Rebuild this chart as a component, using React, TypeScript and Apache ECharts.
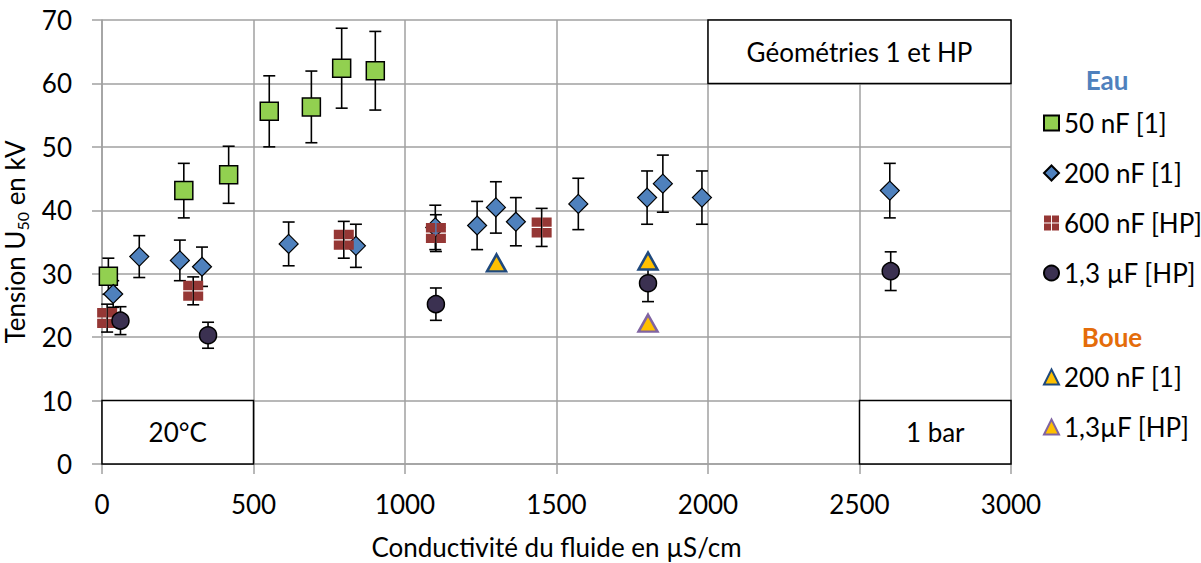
import React, { useEffect, useRef } from "react";
import * as echarts from "echarts";

// ---- Data ----
const eau50X = [21, 270, 418, 552, 691, 791, 902];
const eau50Y = [29.6, 43.1, 45.6, 55.6, 56.3, 62.4, 62.0];
const eau50Err = [2.85, 4.3, 4.5, 5.6, 5.65, 6.3, 6.2];

const eau200X = [37, 123, 257, 330, 616, 838, 1100, 1238, 1300, 1366, 1572, 1799, 1851, 1980, 2600];
const eau200Y = [26.8, 32.7, 32.1, 31.1, 34.7, 34.4, 37.3, 37.6, 40.45, 38.2, 41.0, 42.0, 44.2, 42.0, 43.1];
const eau200Err = [2.1, 3.3, 3.2, 3.1, 3.45, 3.4, 3.5, 3.8, 4.05, 3.8, 4.05, 4.2, 4.5, 4.2, 4.3];

const eau600X = [17, 301, 798, 1102, 1451];
const eau600Y = [23.0, 27.3, 35.35, 36.4, 37.3];
const eau600Err = [2.2, 2.2, 2.9, 2.9, 3.0];

const eau13X = [61, 350, 1102, 1802, 2603];
const eau13Y = [22.6, 20.3, 25.2, 28.5, 30.4];
const eau13Err = [2.2, 2.05, 2.55, 2.9, 3.05];

const boue200X = [1302, 1802];
const boue200Y = [31.7, 32.0];

const boue13X = [1802];
const boue13Y = [22.2];

const seriesNames = ["50 nF [1]", "200 nF [1]", "600 nF [HP]", "1,3 µF [HP]", "Boue 200 nF [1]", "1,3µF [HP]"];
const boxLabels = ["20°C", "1 bar", "Géométries 1 et HP"];

const FONT = "Lato";
const FS = 26;

const pts = (xs: number[], ys: number[]) => xs.map((x, i) => [x, ys[i]]);
const errs = (xs: number[], ys: number[], es: number[]) => xs.map((x, i) => [x, ys[i] - es[i], ys[i] + es[i]]);

const crossSquare =
  "path://M0,0H9.35V9.35H0Z M10.65,0H20V9.35H10.65Z M0,10.65H9.35V20H0Z M10.65,10.65H20V20H10.65Z";

export default function App() {
  const ref = useRef<HTMLDivElement>(null);
  useEffect(() => {
    if (!ref.current) return;
    const chart = echarts.init(ref.current, null, { renderer: "svg" });
    const gridColor = "#a0a0a0";
    const errData = [
      ...errs(eau50X, eau50Y, eau50Err),
      ...errs(eau200X, eau200Y, eau200Err),
      ...errs(eau600X, eau600Y, eau600Err),
      ...errs(eau13X, eau13Y, eau13Err),
    ];
    const boxStyle = { color: "#ffffff", borderColor: "#000000", borderWidth: 1.5, opacity: 1 };
    const boxLabel = { show: true, position: "inside", color: "#000", fontSize: FS, fontFamily: FONT };
    const legendText = { fontSize: FS, fontFamily: FONT, color: "#000", lineHeight: 26 };
    chart.setOption({
      animation: false,
      backgroundColor: "#ffffff",
      grid: { left: 102, top: 20, width: 909, height: 444, outerBoundsMode: "none", containLabel: false },
      xAxis: {
        type: "value",
        min: 0,
        max: 3000,
        interval: 500,
        name: "Conductivité du fluide en µS/cm",
        nameLocation: "middle",
        nameGap: 70,
        nameTextStyle: { fontSize: FS, fontFamily: FONT, color: "#000" },
        axisLine: { show: true, lineStyle: { color: gridColor, width: 1.5 } },
        axisTick: { show: true, length: 10, lineStyle: { color: gridColor, width: 1.5 } },
        axisLabel: {
          fontSize: FS,
          fontFamily: FONT,
          color: "#000",
          margin: 27,
          formatter: (v: number) => String(v),
        },
        splitLine: { show: true, lineStyle: { color: gridColor, width: 1.5 } },
      },
      yAxis: {
        type: "value",
        min: 0,
        max: 70,
        interval: 10,
        name: "{a|Tension U}{s|50}{a| en kV}",
        nameLocation: "middle",
        nameGap: 56,
        nameRotate: 90,
        nameTextStyle: {
          fontSize: FS,
          fontFamily: FONT,
          color: "#000",
          rich: {
            a: { fontSize: FS, fontFamily: FONT, color: "#000", lineHeight: 32, verticalAlign: "middle" },
            s: { fontSize: 16, fontFamily: FONT, color: "#000", lineHeight: 16, verticalAlign: "bottom" },
          },
        },
        axisLine: { show: true, lineStyle: { color: gridColor, width: 1.5 } },
        axisTick: { show: true, length: 10, lineStyle: { color: gridColor, width: 1.5 } },
        axisLabel: { fontSize: FS, fontFamily: FONT, color: "#000", margin: 30 },
        splitLine: { show: true, lineStyle: { color: gridColor, width: 1.5 } },
      },
      legend: [
        {
          data: seriesNames.slice(0, 4),
          orient: "vertical",
          left: 1038,
          top: 105,
          itemWidth: 15,
          itemHeight: 15,
          itemGap: 24,
          selectedMode: false,
          textStyle: legendText,
        },
        {
          data: seriesNames.slice(4),
          orient: "vertical",
          left: 1038,
          top: 359,
          itemWidth: 15,
          itemHeight: 15,
          itemGap: 24,
          selectedMode: false,
          formatter: (n: string) => n.replace(/^Boue /, ""),
          textStyle: legendText,
        },
      ],
      graphic: [
        {
          type: "text",
          x: 1107,
          y: 80,
          style: {
            text: "Eau",
            fontSize: FS,
            fontWeight: "bold",
            fontFamily: FONT,
            fill: "#4f81bd",
            textAlign: "center",
            textVerticalAlign: "middle",
          },
        },
        {
          type: "text",
          x: 1112,
          y: 337,
          style: {
            text: "Boue",
            fontSize: FS,
            fontWeight: "bold",
            fontFamily: FONT,
            fill: "#e46c0a",
            textAlign: "center",
            textVerticalAlign: "middle",
          },
        },
      ],
      series: [
        {
          type: "custom",
          name: "err",
          z: 2,
          encode: { x: 0, y: [1, 2] },
          data: errData,
          renderItem: (params: any, api: any) => {
            const x = api.value(0);
            const lo = api.coord([x, api.value(1)]);
            const hi = api.coord([x, api.value(2)]);
            const w = 6;
            const style = { stroke: "#000", lineWidth: 1.6 };
            return {
              type: "group",
              children: [
                { type: "line", shape: { x1: lo[0], y1: lo[1], x2: hi[0], y2: hi[1] }, style },
                { type: "line", shape: { x1: lo[0] - w, y1: lo[1], x2: lo[0] + w, y2: lo[1] }, style },
                { type: "line", shape: { x1: hi[0] - w, y1: hi[1], x2: hi[0] + w, y2: hi[1] }, style },
              ],
            };
          },
          markArea: {
            silent: true,
            itemStyle: boxStyle,
            label: boxLabel,
            data: [
              [{ name: boxLabels[0], xAxis: 0, yAxis: 0 }, { xAxis: 500, yAxis: 10 }],
              [{ name: boxLabels[1], xAxis: 2500, yAxis: 0 }, { xAxis: 3000, yAxis: 10 }],
              [{ name: boxLabels[2], xAxis: 2000, yAxis: 60 }, { xAxis: 3000, yAxis: 70 }],
            ],
          },
        },
        {
          type: "scatter",
          name: seriesNames[0],
          symbol: "rect",
          symbolSize: 18,
          itemStyle: { color: "#92d050", borderColor: "#000", borderWidth: 1.5, opacity: 1 },
          data: pts(eau50X, eau50Y),
        },
        {
          type: "scatter",
          name: seriesNames[1],
          symbol: "diamond",
          symbolSize: 19,
          itemStyle: { color: "#4f81bd", borderColor: "#000", borderWidth: 1.2, opacity: 1 },
          data: pts(eau200X, eau200Y),
        },
        {
          type: "scatter",
          name: seriesNames[2],
          symbol: crossSquare,
          symbolSize: 20,
          itemStyle: { color: "#953735", opacity: 1 },
          data: pts(eau600X, eau600Y),
        },
        {
          type: "scatter",
          name: seriesNames[3],
          symbol: "circle",
          symbolSize: 17,
          itemStyle: { color: "#3b3151", borderColor: "#000", borderWidth: 1.5, opacity: 1 },
          data: pts(eau13X, eau13Y),
        },
        {
          type: "scatter",
          name: seriesNames[4],
          symbol: "triangle",
          symbolSize: [19, 17],
          itemStyle: { color: "#ffc000", borderColor: "#1f497d", borderWidth: 2.5, opacity: 1 },
          data: pts(boue200X, boue200Y),
        },
        {
          type: "scatter",
          name: seriesNames[5],
          symbol: "triangle",
          symbolSize: [19, 17],
          itemStyle: { color: "#ffc000", borderColor: "#8064a2", borderWidth: 2.5, opacity: 1 },
          data: pts(boue13X, boue13Y),
        },
      ],
    });
    return () => chart.dispose();
  }, []);
  return (
    <div
      ref={ref}
      style={{ position: "fixed", left: 0, top: 0, width: 1201, height: 563, background: "#fff" }}
    />
  );
}
